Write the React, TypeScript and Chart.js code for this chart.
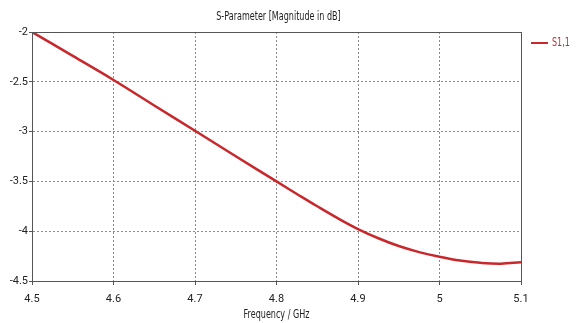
import React, { useEffect, useRef } from "react";
import { Chart, registerables } from "chart.js";

Chart.register(...registerables);

const frequencies = [4.5, 4.55, 4.6, 4.65, 4.7, 4.75, 4.8, 4.825, 4.85, 4.875, 4.9, 4.925, 4.95, 4.975, 5.0, 5.025, 5.05, 5.075, 5.1];
const s11 = [-2.0, -2.24, -2.482, -2.738, -2.992, -3.247, -3.5, -3.626, -3.75, -3.869, -3.978, -4.071, -4.149, -4.21, -4.256, -4.294, -4.317, -4.326, -4.311];
const xTicks = [4.5, 4.6, 4.7, 4.8, 4.9, 5.0, 5.1];
const yTicks = [-2, -2.5, -3, -3.5, -4, -4.5];
const chartTitle = "S-Parameter [Magnitude in dB]";
const xTitle = "Frequency / GHz";
const seriesLabel = "S1,1";

const FONT = "Roboto, 'DejaVu Sans', sans-serif";
const RED = "#c8282c";
const TEXT = "#222222";

function condensedText(ctx: any, text: string, cx: number, cy: number, size: number, sx: number, align: string) {
  ctx.save();
  ctx.font = `${size}px 'DejaVu Sans', sans-serif`;
  ctx.textBaseline = "middle";
  ctx.textAlign = align;
  ctx.translate(cx, cy);
  ctx.scale(sx, 1);
  ctx.fillText(text, 0, 0);
  ctx.restore();
}

export default function App() {
  const ref = useRef<HTMLCanvasElement | null>(null);
  useEffect(() => {
    if (!ref.current) return;
    const decor = {
      id: "decor",
      afterDraw(chart: any) {
        const { ctx, chartArea } = chart;
        ctx.save();
        ctx.setLineDash([]);
        ctx.strokeStyle = "#555555";
        ctx.lineWidth = 1;
        ctx.strokeRect(chartArea.left + 0.5, chartArea.top + 0.5, chartArea.right - chartArea.left, chartArea.bottom - chartArea.top);
        ctx.fillStyle = TEXT;
        const cx = (chartArea.left + chartArea.right) / 2;
        condensedText(ctx, chartTitle, cx + 2, 17, 11.5, 0.7, "center");
        condensedText(ctx, xTitle, cx, 315, 11.5, 0.7, "center");
        // legend
        const label = chart.data.datasets[0].label;
        ctx.strokeStyle = RED;
        ctx.lineWidth = 2;
        ctx.beginPath();
        ctx.moveTo(531, 43);
        ctx.lineTo(548, 43);
        ctx.stroke();
        ctx.fillStyle = RED;
        condensedText(ctx, label, 552, 43, 11.5, 0.7, "left");
        ctx.restore();
      },
    };
    const font = { family: FONT, size: 11 } as any;
    const chart = new Chart(ref.current, {
      type: "line",
      data: {
        datasets: [
          {
            label: seriesLabel,
            data: frequencies.map((f, i) => ({ x: f, y: s11[i] })),
            borderColor: RED,
            borderWidth: 2.5,
            pointRadius: 0,
            tension: 0.4,
            fill: false,
          },
        ],
      },
      options: {
        animation: false,
        responsive: false,
        maintainAspectRatio: false,
        layout: { padding: { left: 0, right: 55, top: 32, bottom: 0 } },
        plugins: { legend: { display: false }, title: { display: false }, tooltip: { enabled: false } },
        scales: {
          x: {
            type: "linear",
            min: 4.5,
            max: 5.1,
            afterBuildTicks(scale: any) {
              scale.ticks = xTicks.map((v) => ({ value: v }));
            },
            afterFit(scale: any) {
              scale.height = 42;
            },
            ticks: {
              color: TEXT,
              font,
              padding: 8,
              maxRotation: 0,
              autoSkip: false,
              callback: (v: any) => String(Number(v)),
            },
            grid: {
              color: "#8a8a8a",
              tickLength: 4,
              tickColor: "#555555",
              tickBorderDash: [],
            } as any,
            border: { display: true, color: "#555555", dash: [2, 2] } as any,
            title: { display: false, text: xTitle },
          },
          y: {
            type: "linear",
            min: -4.5,
            max: -2,
            afterBuildTicks(scale: any) {
              scale.ticks = yTicks.map((v) => ({ value: v }));
            },
            afterFit(scale: any) {
              scale.width = 32;
            },
            ticks: {
              color: TEXT,
              font,
              padding: 1,
              autoSkip: false,
              callback: (v: any) => String(Number(v)),
            },
            grid: {
              color: "#8a8a8a",
              tickLength: 3,
              tickColor: "#555555",
              tickBorderDash: [],
            } as any,
            border: { display: true, color: "#555555", dash: [2, 2] } as any,
          },
        },
      } as any,
      plugins: [decor],
    });
    return () => chart.destroy();
  }, []);
  return (
    <div style={{ position: "fixed", left: 0, top: 0, width: 576, height: 323, background: "#fff" }}>
      <canvas ref={ref} width={576} height={323} style={{ width: 576, height: 323 }} />
    </div>
  );
}
